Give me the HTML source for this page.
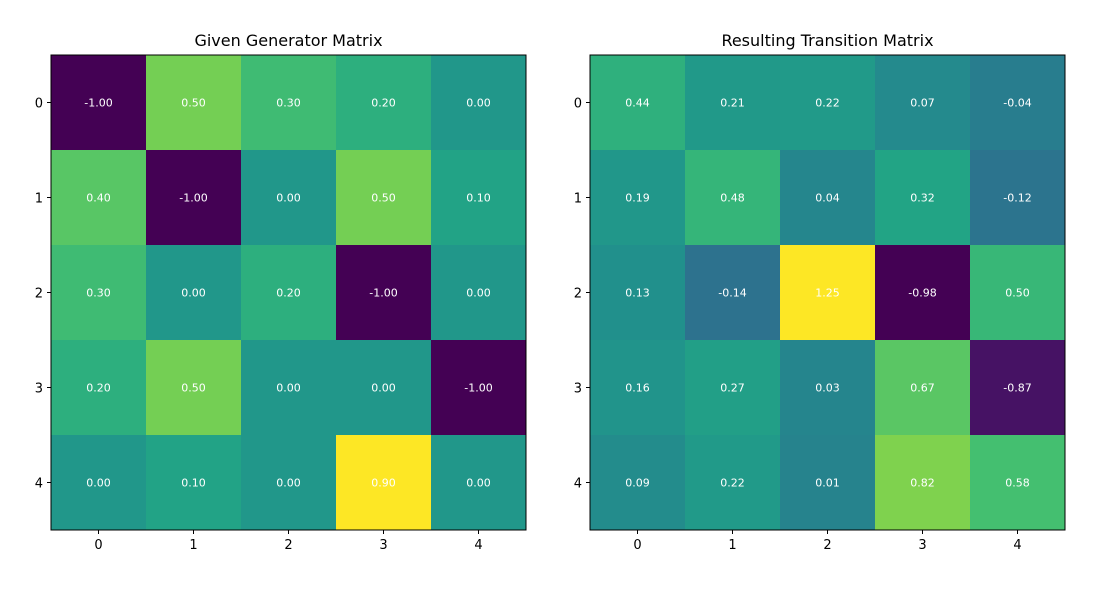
<!DOCTYPE html>
<html><head><meta charset="utf-8"><style>
body{margin:0;background:#fff;}
svg text{font-family:"DejaVu Sans","Liberation Sans",sans-serif;}
</style></head><body>
<svg id="fig" width="1093" height="595" xmlns="http://www.w3.org/2000/svg"></svg>
<script>
const categories = ["0","1","2","3","4"];
const generatorValues = [
 [-1.00,0.50,0.30,0.20,0.00],
 [0.40,-1.00,0.00,0.50,0.10],
 [0.30,0.00,0.20,-1.00,0.00],
 [0.20,0.50,0.00,0.00,-1.00],
 [0.00,0.10,0.00,0.90,0.00]];
const transitionValues = [
 [0.44,0.21,0.22,0.07,-0.04],
 [0.19,0.48,0.04,0.32,-0.12],
 [0.13,-0.14,1.25,-0.98,0.50],
 [0.16,0.27,0.03,0.67,-0.87],
 [0.09,0.22,0.01,0.82,0.58]];
const titles = ["Given Generator Matrix","Resulting Transition Matrix"];

const vir=["#440154","#482475","#414487","#355f8d","#2a788e","#21918c","#22a884","#44bf70","#7ad151","#bddf26","#fde725"];
function hex(h){return [1,3,5].map(i=>parseInt(h.substr(i,2),16));}
function viridis(t){t=Math.max(0,Math.min(1,t));const p=t*10,i=Math.min(9,Math.floor(p)),f=p-i;
 const a=hex(vir[i]),b=hex(vir[i+1]);return "rgb("+a.map((v,k)=>Math.round(v+(b[k]-v)*f)).join(",")+")";}
const NS="http://www.w3.org/2000/svg";
const svg=document.getElementById("fig");
function mk(tag,attrs,parent){const e=document.createElementNS(NS,tag);for(const k in attrs)e.setAttribute(k,attrs[k]);(parent||svg).appendChild(e);return e;}
function draw(x0,y0,size,vals,title,prefix){
 const n=categories.length,cs=size/n;
 const flat=vals.flat(),mn=Math.min(...flat),mx=Math.max(...flat);
 const g=mk("g",{});
 
 
 const xs=j=>x0+j*cs, ys=i=>y0+i*cs;
 vals.forEach((row,i)=>row.forEach((v,j)=>{
  const r=mk("rect",{x:xs(j),y:ys(i),width:cs+0.5,height:cs+0.5,fill:viridis((v-mn)/(mx-mn))},g);
  
  
  const t=mk("text",{x:xs(j)+cs/2,y:ys(i)+cs/2+4,"text-anchor":"middle","font-size":"11",fill:"#fff"},g);
  t.textContent=v.toFixed(2);
  
  
 }));
 mk("rect",{x:x0,y:y0,width:size,height:size,fill:"none",stroke:"#000","stroke-width":1},g);
 categories.forEach((c,k)=>{
  mk("line",{x1:xs(k)+cs/2,x2:xs(k)+cs/2,y1:y0+size,y2:y0+size+4,stroke:"#000"},g);
  const tx=mk("text",{x:xs(k)+cs/2,y:y0+size+19,"text-anchor":"middle","font-size":"13",fill:"#000"},g);
  tx.textContent=c;
  
  
  mk("line",{x1:x0-4,x2:x0,y1:ys(k)+cs/2,y2:ys(k)+cs/2,stroke:"#000"},g);
  const ty=mk("text",{x:x0-8,y:ys(k)+cs/2+5,"text-anchor":"end","font-size":"13",fill:"#000"},g);
  ty.textContent=c;
  
  
 });
 const tt=mk("text",{x:x0+size/2,y:y0-9,"text-anchor":"middle","font-size":"16",fill:"#000"},g);
 tt.textContent=title;
 
 
}
draw(51,55,475,generatorValues,titles[0],"generator");
draw(590,55,475,transitionValues,titles[1],"transition");
</script>
</body></html>
